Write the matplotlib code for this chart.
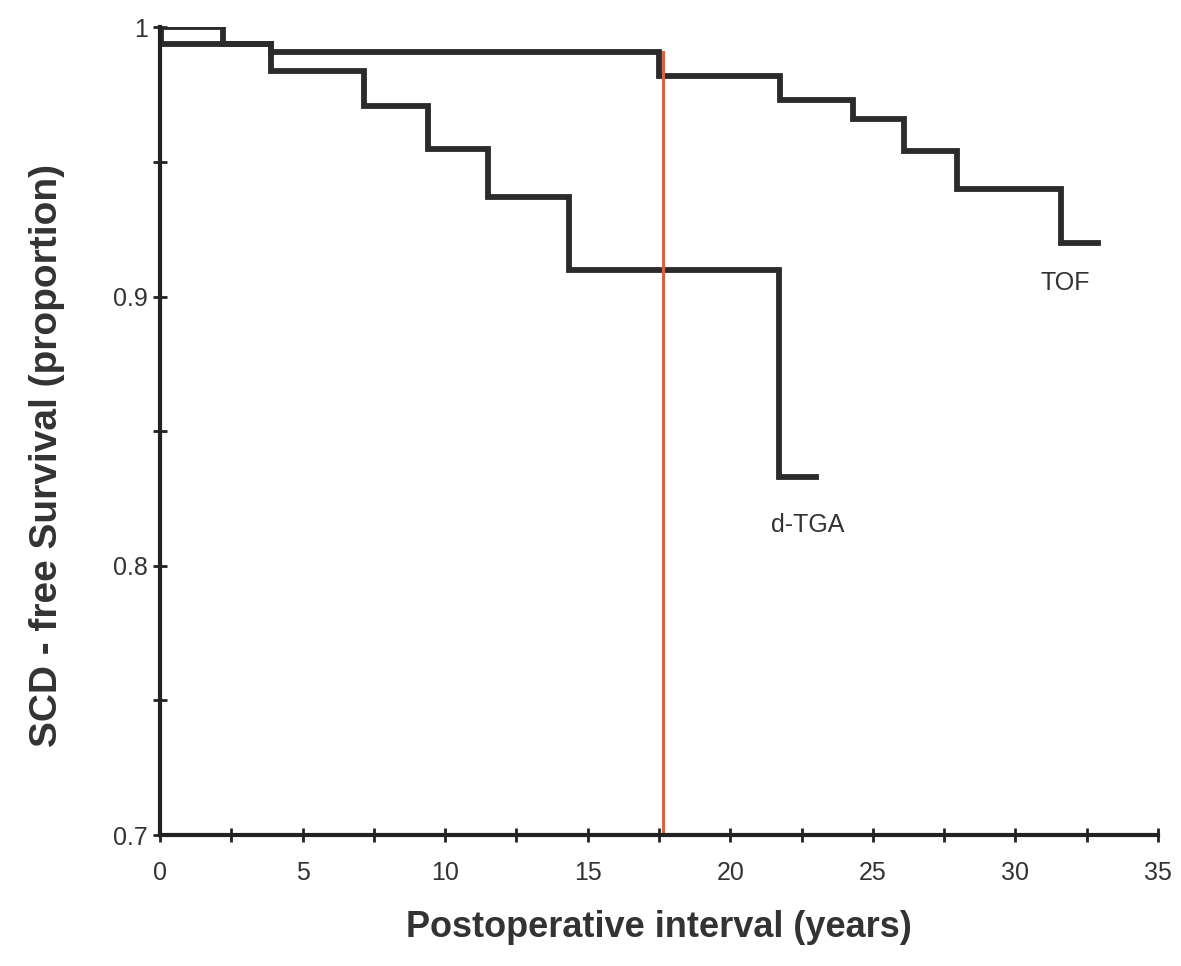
import numpy as np
import matplotlib
matplotlib.use("Agg")
import matplotlib.pyplot as plt
from matplotlib.ticker import MultipleLocator

plt.rcParams["font.family"] = ["Liberation Sans", "DejaVu Sans"]

# Kaplan-Meier steps
tof_years = [0, 0.05, 3.9, 17.5, 21.75, 24.3, 26.1, 27.95, 31.6, 32.9]
tof_surv = [1.0, 0.994, 0.991, 0.982, 0.973, 0.966, 0.954, 0.940, 0.920, 0.920]

dtga_years = [0, 2.2, 3.9, 7.15, 9.4, 11.5, 14.35, 21.7, 23.0]
dtga_surv = [1.0, 0.994, 0.984, 0.971, 0.955, 0.937, 0.910, 0.833, 0.833]

marker_year = 17.65
x_ticks = [0, 5, 10, 15, 20, 25, 30, 35]
y_ticks = [0.7, 0.8, 0.9, 1.0]
y_tick_labels = ["0.7", "0.8", "0.9", "1"]

fig = plt.figure(figsize=(11.81, 9.66), dpi=100)
ax = fig.add_axes([0.1355, 0.1356, 0.845, 0.836])

line_col = "#2b2b2b"
ax.step(tof_years, tof_surv, where="post", color=line_col, lw=4.2, solid_joinstyle="miter")
ax.step(dtga_years, dtga_surv, where="post", color=line_col, lw=4.2, solid_joinstyle="miter")
ax.plot([marker_year, marker_year], [0.7, 0.991], color="#d8643f", lw=2.2)

ax.text(31.75, 0.905, "TOF", fontsize=18, ha="center", va="center", color="#333333")
ax.text(22.7, 0.815, "d-TGA", fontsize=18, ha="center", va="center", color="#333333")

ax.set_xlim(0, 35)
ax.set_ylim(0.7, 1.0)
ax.set_xticks(x_ticks)
ax.set_yticks(y_ticks)
ax.set_yticklabels(y_tick_labels)
ax.xaxis.set_minor_locator(MultipleLocator(2.5))
ax.yaxis.set_minor_locator(MultipleLocator(0.05))
ax.tick_params(which="both", direction="inout", length=10, width=2, colors="#222222",
               labelsize=18, labelcolor="#333333")
ax.tick_params(axis="x", pad=14)

for side in ["top", "right"]:
    ax.spines[side].set_visible(False)
for side in ["left", "bottom"]:
    ax.spines[side].set_linewidth(3)
    ax.spines[side].set_color("#222222")

ax.set_xlabel("Postoperative interval (years)", fontsize=26, fontweight="bold",
              color="#333333", labelpad=18)
ax.set_ylabel("SCD - free Survival (proportion)", fontsize=28, fontweight="bold",
              color="#333333")
ax.yaxis.set_label_coords(-0.095, 0.47)

fig.savefig("out.png", dpi=100)
